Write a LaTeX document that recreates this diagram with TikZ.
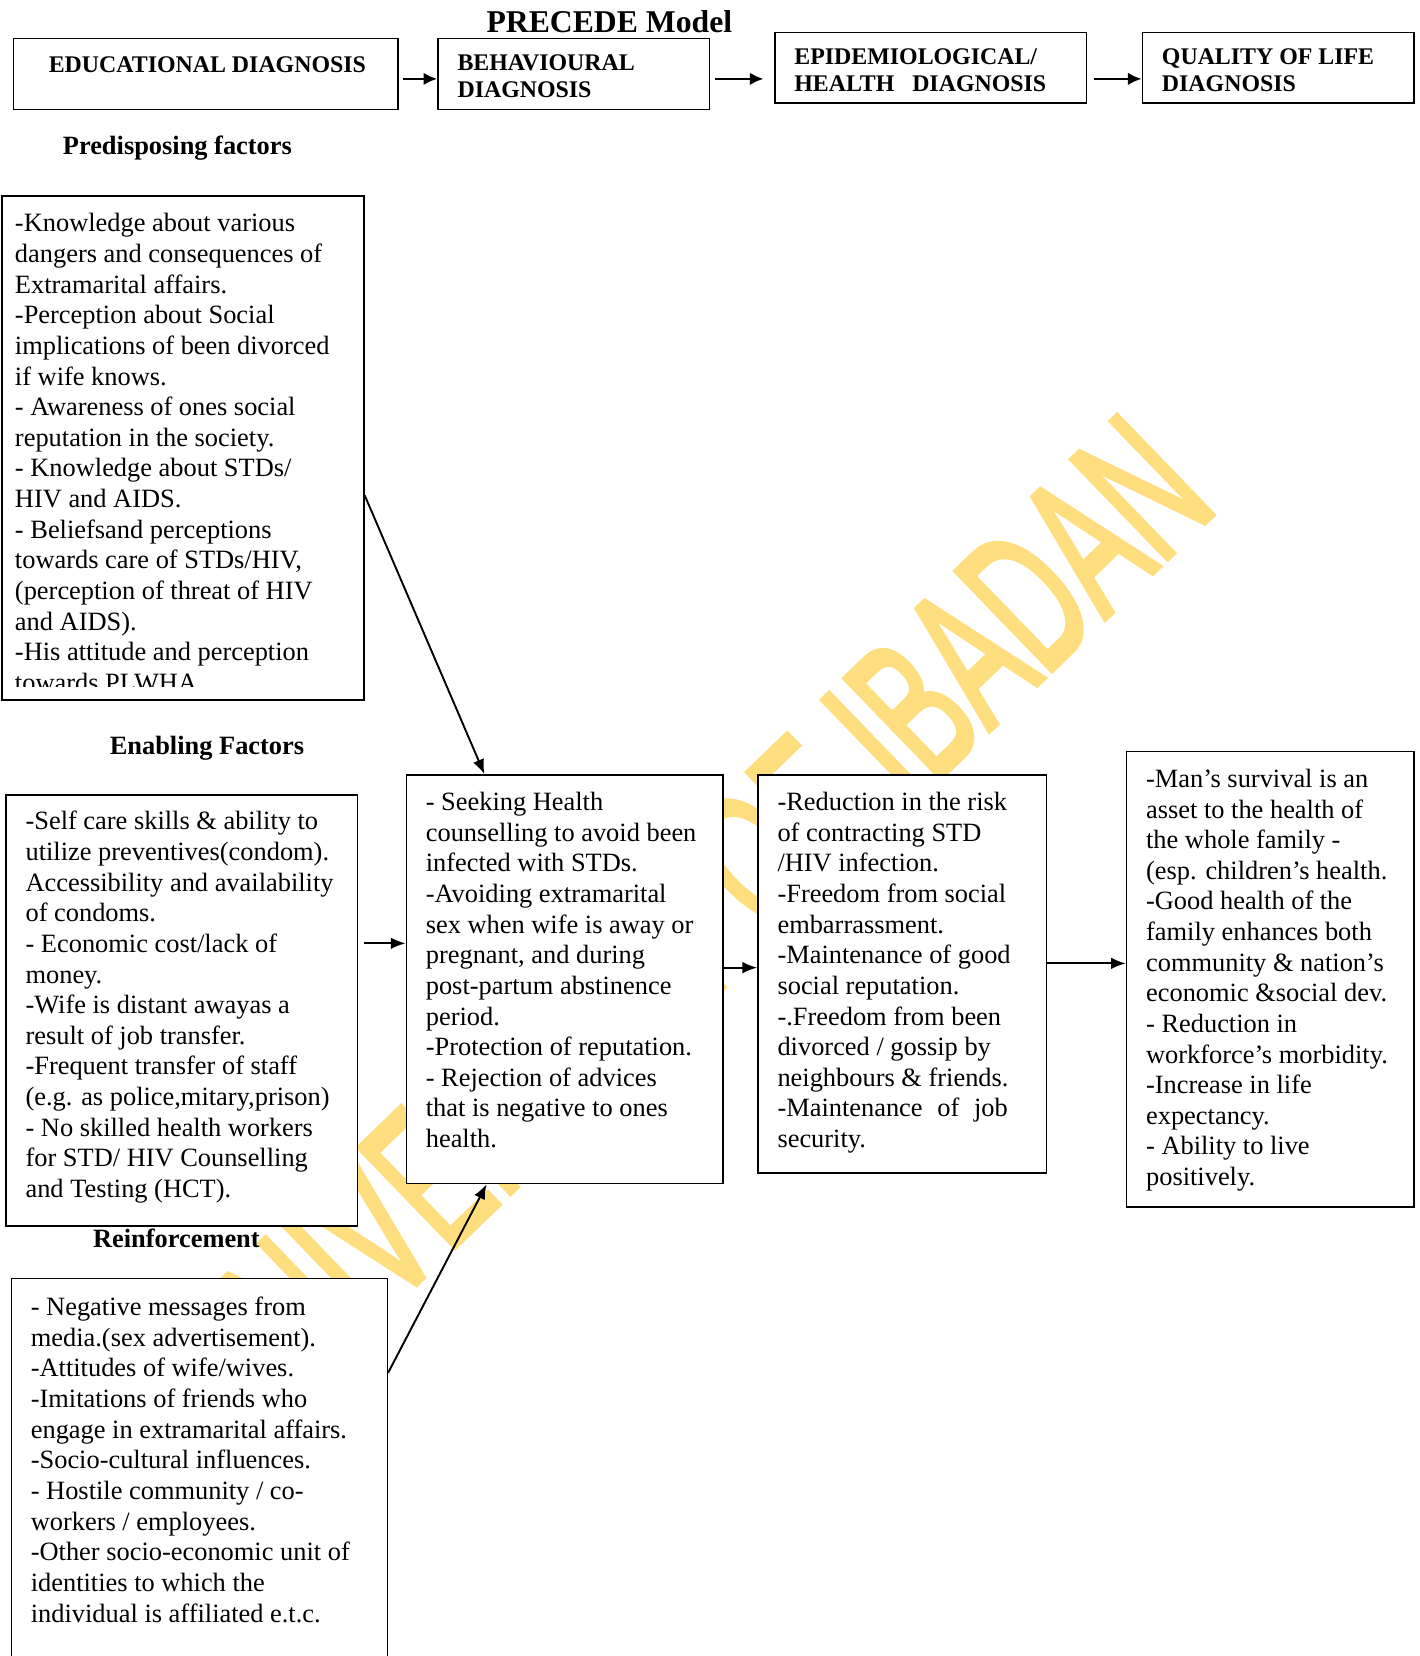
\documentclass[tikz,border=0pt]{standalone}
\usepackage{fontspec}
\setmainfont{Liberation Serif}
\newfontfamily\wmfont[FakeBold=3]{Liberation Sans}
\usepackage{graphicx}
\usetikzlibrary{arrows.meta}
\definecolor{wmyellow}{RGB}{255,222,128}

\begin{document}
\begin{tikzpicture}[x=1pt, y=-1pt,
  hdbox/.style={draw, fill=white, line width=1.4pt, inner sep=0pt, anchor=north west},
  hdtext/.style={anchor=north west, inner sep=0pt, align=left, font=\bfseries\fontsize{22.6}{25.5}\selectfont, execute at begin node=\strut},
  factorbox/.style={draw, fill=white, line width=1.4pt, inner sep=0pt, anchor=north west},
  ftext/.style={anchor=north west, inner sep=0pt, align=left, font=\fontsize{25}{29}\selectfont, execute at begin node=\strut},
  lbl/.style={anchor=base, inner sep=0pt, font=\bfseries\fontsize{25}{29}\selectfont},
  wmark/.style={text=wmyellow, inner sep=0pt, font=\wmfont\fontsize{189}{189}\selectfont},
  flow/.style={-{Latex[length=14pt,width=11pt]}, line width=1.8pt},
  hdflow/.style={-{Latex[length=13pt,width=12pt]}, line width=2.6pt}]
    \useasboundingbox (0,0) rectangle (1344,1568);
    \node[wmark, rotate=44] (wm) at (650,878) {\scalebox{0.58}[1]{UNIVERSITY OF IBADAN}};

    \node[lbl, font=\bfseries\fontsize{30}{34}\selectfont] (title) at (577,31) {PRECEDE Model};

    \node[hdbox, minimum width=364pt, minimum height=67pt] (edu) at (12,36) {};
    \node[hdbox, minimum width=257pt, minimum height=67pt] (behd) at (414,36) {};
    \node[hdbox, minimum width=295pt, minimum height=67pt] (epid) at (733,30) {};
    \node[hdbox, minimum width=257pt, minimum height=67pt] (qold) at (1081,30) {};
    \node[hdtext] (edutext) at (46,51) {EDUCATIONAL DIAGNOSIS};
    \node[hdtext] (behdtext) at (433,52) {BEHAVIOURAL\\DIAGNOSIS};
    \node[hdtext] (epidtext) at (752,46) {EPIDEMIOLOGICAL/\\HEALTH\ \ \ DIAGNOSIS};
    \node[hdtext] (qoldtext) at (1100,46) {QUALITY OF LIFE\\DIAGNOSIS};

    \node[lbl] (pf) at (168,146) {Predisposing factors};
    \node[lbl] (ef) at (196,714) {Enabling Factors};
    \node[lbl] (rf) at (167,1181) {Reinforcement};

    \node[factorbox, minimum width=343pt, minimum height=477pt] (pre) at (1,185) {};
    \node[factorbox, minimum width=333pt, minimum height=408pt] (en) at (5,752) {};
    \node[factorbox, minimum width=300pt, minimum height=387pt] (beh) at (384,733) {};
    \node[factorbox, minimum width=273pt, minimum height=377pt] (epi) at (717,733) {};
    \node[factorbox, minimum width=272pt, minimum height=431pt] (qol) at (1066,711) {};
    \node[factorbox, minimum width=356pt, minimum height=380pt] (rein) at (10,1210) {};

    \begin{scope}
      \clip (pre.north west) rectangle ([yshift=13pt]pre.south east);
      \node[ftext] (pretext) at (14,202) {-Knowledge about various\\dangers and consequences of\\Extramarital affairs.\\-Perception about Social\\implications of been divorced\\if wife knows.\\- Awareness of ones social\\reputation in the society.\\- Knowledge about STDs/\\HIV and AIDS.\\- Beliefsand perceptions\\towards care of STDs/HIV,\\(perception of threat of HIV\\and AIDS).\\-His attitude and perception\\towards PLWHA.};
    \end{scope}
    \node[ftext] (entext) at (24,768) {-Self care skills \& ability to\\utilize preventives(condom).\\Accessibility and availability\\of condoms.\\- Economic cost/lack of\\money.\\-Wife is distant awayas a\\result of job transfer.\\-Frequent transfer of staff\\(e.g. as police,mitary,prison)\\- No skilled health workers\\for STD/ HIV Counselling\\and Testing (HCT).};
    \node[ftext] (behtext) at (403,750) {- Seeking Health\\counselling to avoid been\\infected with STDs.\\-Avoiding extramarital\\sex when wife is away or\\pregnant, and during\\post-partum abstinence\\period.\\-Protection of reputation.\\- Rejection of advices\\that is negative to ones\\health.};
    \node[ftext] (epitext) at (736,750) {-Reduction in the risk\\of contracting STD\\/HIV infection.\\-Freedom from social\\embarrassment.\\-Maintenance of good\\social reputation.\\-.Freedom from been\\divorced / gossip by\\neighbours \& friends.\\\makebox[218pt][s]{-Maintenance of job}\\security.};
    \node[ftext] (qoltext) at (1085,728) {-Man’s survival is an\\asset to the health of\\the whole family -\\(esp. children’s health.\\-Good health of the\\family enhances both\\community \& nation’s\\economic \&social dev.\\- Reduction in\\workforce’s morbidity.\\-Increase in life\\expectancy.\\- Ability to live\\positively.};
    \node[ftext] (reintext) at (29,1228) {- Negative messages from\\media.(sex advertisement).\\-Attitudes of wife/wives.\\-Imitations of friends who\\engage in extramarital affairs.\\-Socio-cultural influences.\\- Hostile community / co-\\workers / employees.\\-Other socio-economic unit of\\identities to which the\\individual is affiliated e.t.c.};

    \coordinate (a1) at ([yshift=-4.5pt]edu.east);
    \coordinate (a2) at ([yshift=-4.5pt]behd.east);
    \coordinate (a3) at ([yshift=-10.5pt]epid.east);
    \draw[hdflow] ([xshift=4pt]a1) -- (a1 -| behd.west);
    \draw[hdflow] ([xshift=5pt]a2) -- ([xshift=-10pt]a2 -| epid.west);
    \draw[hdflow] ([xshift=6pt]a3) -- (a3 -| qold.west);

    \coordinate (b1) at ([yshift=34pt]beh.west);
    \coordinate (d1) at ([yshift=11pt]beh.east);
    \coordinate (e1) at ([yshift=10pt]epi.east);
    \draw[flow] ([yshift=-45pt]pre.east) -- ([xshift=-76pt]beh.north);
    \draw[flow] ([xshift=-39pt]b1) -- (b1);
    \draw[flow] ([yshift=-90pt]rein.north east) -- ([xshift=-74pt]beh.south);
    \draw[flow] (d1) -- (d1 -| epi.west);
    \draw[flow] (e1) -- (e1 -| qol.west);
\end{tikzpicture}
\end{document}
